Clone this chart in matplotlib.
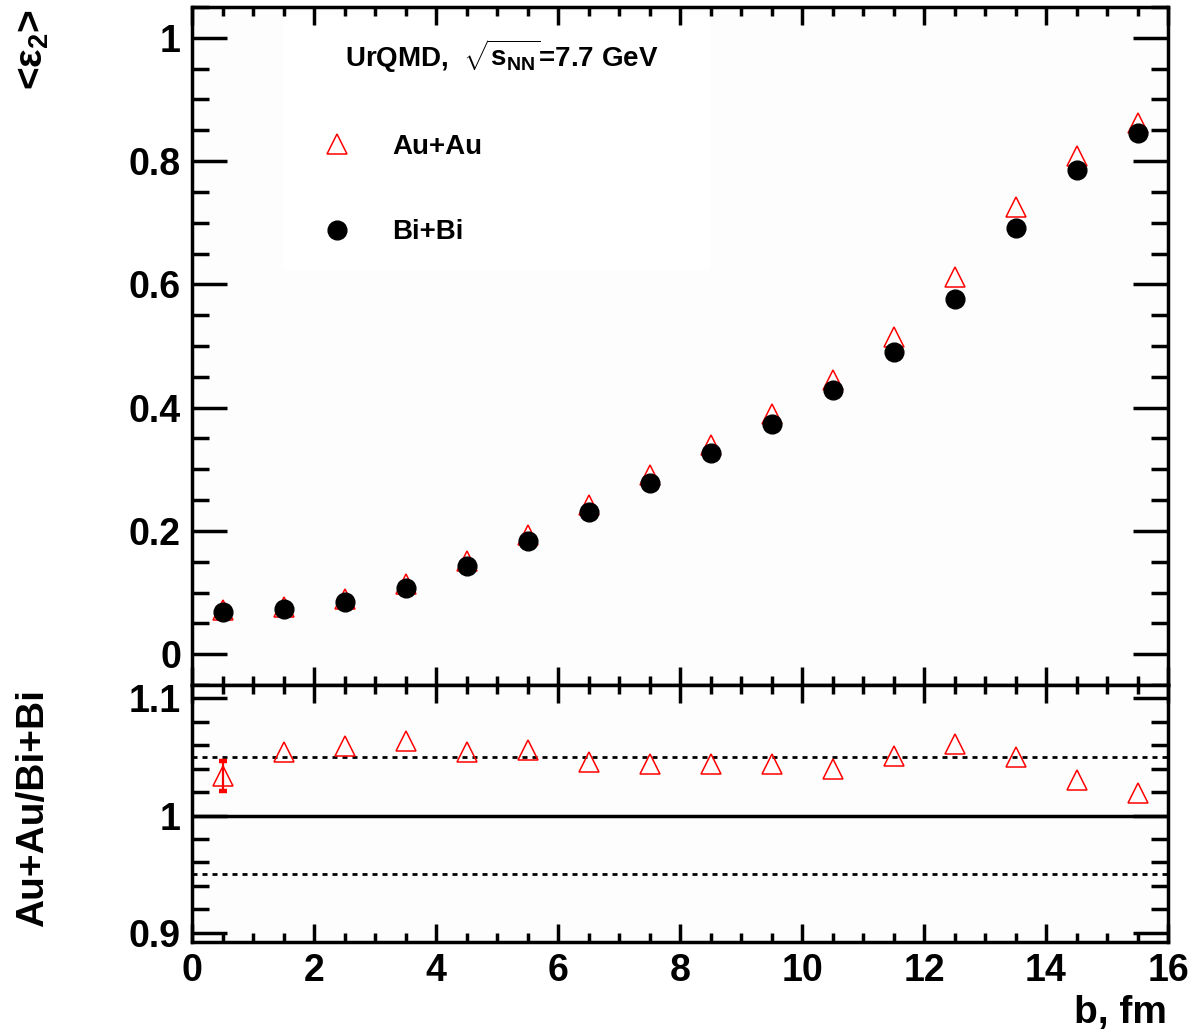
import numpy as np
import matplotlib
matplotlib.use("Agg")
import matplotlib.pyplot as plt
from matplotlib.ticker import MultipleLocator, FuncFormatter
from matplotlib.patches import Rectangle

plt.rcParams["font.family"] = ["Liberation Sans", "DejaVu Sans"]
plt.rcParams["font.weight"] = "bold"
plt.rcParams["mathtext.fontset"] = "custom"
for k in ("rm", "it", "bf", "sf"):
    plt.rcParams["mathtext." + k] = "Liberation Sans:bold"

# impact parameter bins (fm)
b = [0.5, 1.5, 2.5, 3.5, 4.5, 5.5, 6.5, 7.5, 8.5, 9.5, 10.5, 11.5, 12.5, 13.5, 14.5, 15.5]
# <eps_2>
eps_au = [0.071, 0.077, 0.089, 0.114, 0.151, 0.194, 0.242, 0.290,
          0.340, 0.389, 0.445, 0.515, 0.612, 0.726, 0.809, 0.861]
eps_bi = [0.069, 0.073, 0.084, 0.107, 0.143, 0.184, 0.231, 0.278,
          0.326, 0.373, 0.428, 0.490, 0.577, 0.691, 0.785, 0.845]
# Au+Au / Bi+Bi
ratio = [1.034, 1.054, 1.059, 1.064, 1.054, 1.056, 1.046, 1.044,
         1.044, 1.044, 1.040, 1.051, 1.061, 1.050, 1.030, 1.019]
ratio_err = [0.013, 0, 0, 0, 0, 0, 0, 0, 0, 0, 0, 0, 0, 0, 0, 0]
band = [0.95, 1.0, 1.05]

W, H = 1194, 1036
fig = plt.figure(figsize=(W / 100, H / 100), dpi=100)
L, R = 192, 1168
top_t, top_b, bot_b = 7, 685, 942
ax = fig.add_axes([L / W, 1 - top_b / H, (R - L) / W, (top_b - top_t) / H])
axr = fig.add_axes([L / W, 1 - bot_b / H, (R - L) / W, (bot_b - top_b) / H])

BG = "#fdfdfd"
LW = 2.5
fmt = FuncFormatter(lambda v, p: "%g" % round(v, 3))

for a in (ax, axr):
    a.set_facecolor(BG)
    for s in a.spines.values():
        s.set_linewidth(LW)
    a.set_xlim(0, 16)
    a.xaxis.set_major_locator(MultipleLocator(2))
    a.xaxis.set_minor_locator(MultipleLocator(0.5))
    a.tick_params(which="both", direction="in", top=True, right=True, width=LW,
                  labelsize=27, pad=8)
    a.tick_params(axis="x", which="major", length=13)
    a.tick_params(axis="x", which="minor", length=6.5)
    a.tick_params(axis="y", which="major", length=25)
    a.tick_params(axis="y", which="minor", length=12.5)
    a.yaxis.set_major_formatter(fmt)
    a.xaxis.set_major_formatter(fmt)

# upper panel
ax.set_ylim(-0.05, 1.05)
ax.yaxis.set_major_locator(MultipleLocator(0.2))
ax.yaxis.set_minor_locator(MultipleLocator(0.05))
ax.tick_params(labelbottom=False)

ax.plot(b, eps_au, ls="none", marker="^", ms=14.5, mfc="none", mec="red", mew=1.1, zorder=3)
ax.plot(b, eps_bi, ls="none", marker="o", ms=13.5, color="black", zorder=4)


def axpos(px, py):
    return (px - L) / (R - L), (top_b - py) / (top_b - top_t)


x0, y0 = axpos(283, 270)
x1, y1 = axpos(710, 15)
ax.add_patch(Rectangle((x0, y0), x1 - x0, y1 - y0, transform=ax.transAxes,
                       facecolor="white", edgecolor="none", zorder=0))

tx, ty = axpos(345, 67)
ax.text(tx, ty, r"UrQMD,  $\sqrt{s_{NN}}$=7.7 GeV", transform=ax.transAxes,
        fontsize=20, ha="left", va="baseline")
mx, my = axpos(337, 144)
ax.plot([mx], [my], transform=ax.transAxes, marker="^", ms=14.5, mfc="none",
        mec="red", mew=1.1, clip_on=False)
lx, ly = axpos(392, 147)
ax.text(lx, ly, "Au+Au", transform=ax.transAxes, fontsize=20, ha="left", va="center")
mx, my = axpos(337, 230)
ax.plot([mx], [my], transform=ax.transAxes, marker="o", ms=13.5, color="black",
        clip_on=False)
lx, ly = axpos(392, 232)
ax.text(lx, ly, "Bi+Bi", transform=ax.transAxes, fontsize=20, ha="left", va="center")

# lower panel
axr.set_ylim(0.892, 1.1115)
axr.yaxis.set_major_locator(MultipleLocator(0.1))
axr.yaxis.set_minor_locator(MultipleLocator(0.02))
axr.axhline(band[1], color="black", lw=2.5, zorder=1)
for v in (band[0], band[2]):
    axr.axhline(v, color="black", lw=2.0, ls=(0, (1.8, 1.8)), zorder=1)
axr.plot(b, ratio, ls="none", marker="^", ms=14.5, mfc="none", mec="red", mew=1.1, zorder=3)
idx = [i for i, e in enumerate(ratio_err) if e > 0]
axr.errorbar([b[i] for i in idx], [ratio[i] for i in idx], yerr=[ratio_err[i] for i in idx],
             ls="none", ecolor="red", elinewidth=1.6, capsize=2.6, capthick=3.2, zorder=3)

fig.text(15 / W, 1 - 10 / H, r"<$\varepsilon_2$>", rotation=90, fontsize=28,
         ha="left", va="top")
fig.text(15 / W, 1 - 808 / H, "Au+Au/Bi+Bi", rotation=90, fontsize=28,
         ha="left", va="center")
fig.text(1167 / W, 1 - 995 / H, "b, fm", fontsize=28, ha="right", va="top")

fig.savefig("out.png", dpi=100, facecolor="white")
